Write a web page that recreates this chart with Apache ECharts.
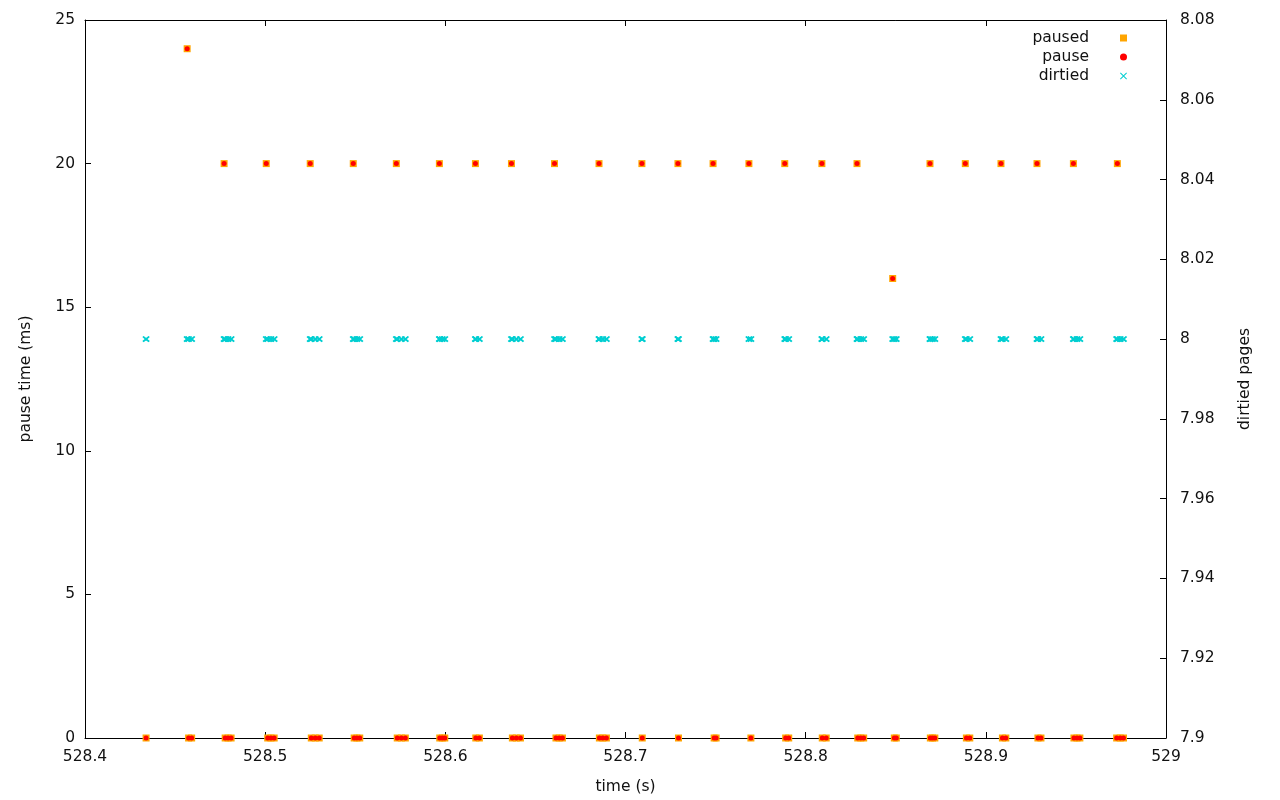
<!DOCTYPE html>
<html>
<head>
<meta charset="utf-8">
<script src="https://cdn.jsdelivr.net/npm/echarts@6/dist/echarts.min.js"></script>
<style>html,body{margin:0;padding:0;background:#fff;}#c{width:1280px;height:800px;}</style>
</head>
<body>
<div id="c"></div>
<script>
// time (s) of each pause event (one row per burst)
const pauseTimes = [
  528.4339,
  528.4567, 528.4575, 528.4592,
  528.4772, 528.4778, 528.4794, 528.4811,
  528.5006, 528.5014, 528.5032, 528.5050,
  528.5250, 528.5256, 528.5278, 528.5300,
  528.5489, 528.5494, 528.5509, 528.5525,
  528.5728, 528.5733, 528.5756, 528.5778,
  528.5967, 528.5969, 528.5983, 528.5997,
  528.6167, 528.6169, 528.6189,
  528.6367, 528.6372, 528.6394, 528.6417,
  528.6606, 528.6614, 528.6632, 528.6650,
  528.6853, 528.6855, 528.6874, 528.6894,
  528.7091, 528.7093,
  528.7291, 528.7294,
  528.7486, 528.7492, 528.7503,
  528.7685, 528.7696,
  528.7884, 528.7889, 528.7906,
  528.8090, 528.8092, 528.8114,
  528.8285, 528.8289, 528.8306, 528.8322,
  528.8483, 528.8492, 528.8503,
  528.8690, 528.8692, 528.8704, 528.8717,
  528.8886, 528.8892, 528.8911,
  528.9084, 528.9092, 528.9111,
  528.9284, 528.9289, 528.9306,
  528.9486, 528.9489, 528.9506, 528.9522,
  528.9726, 528.9730, 528.9746, 528.9764
];
// pause time (ms) of each event
const pauseMs = [
  0,
  24, 0, 0,
  20, 0, 0, 0,
  20, 0, 0, 0,
  20, 0, 0, 0,
  20, 0, 0, 0,
  20, 0, 0, 0,
  20, 0, 0, 0,
  20, 0, 0,
  20, 0, 0, 0,
  20, 0, 0, 0,
  20, 0, 0, 0,
  20, 0,
  20, 0,
  20, 0, 0,
  20, 0,
  20, 0, 0,
  20, 0, 0,
  20, 0, 0, 0,
  16, 0, 0,
  20, 0, 0, 0,
  20, 0, 0,
  20, 0, 0,
  20, 0, 0,
  20, 0, 0, 0,
  0, 20, 0, 0
];
// dirtied pages of each event
const dirtiedPages = [
  8,
  8, 8, 8,
  8, 8, 8, 8,
  8, 8, 8, 8,
  8, 8, 8, 8,
  8, 8, 8, 8,
  8, 8, 8, 8,
  8, 8, 8, 8,
  8, 8, 8,
  8, 8, 8, 8,
  8, 8, 8, 8,
  8, 8, 8, 8,
  8, 8,
  8, 8,
  8, 8, 8,
  8, 8,
  8, 8, 8,
  8, 8, 8,
  8, 8, 8, 8,
  8, 8, 8,
  8, 8, 8, 8,
  8, 8, 8,
  8, 8, 8,
  8, 8, 8,
  8, 8, 8, 8,
  8, 8, 8, 8
];
const seriesNames = ['paused', 'pause', 'dirtied'];
const xAxisName = 'time (s)';
const yAxisName = 'pause time (ms)';
const y2AxisName = 'dirtied pages';

const pausePairs = pauseTimes.map((t, i) => [t, pauseMs[i]]);
const dirtiedPairs = pauseTimes.map((t, i) => [t, dirtiedPages[i]]);

const FONT = 'DejaVu Sans';
const txt = { fontFamily: FONT, fontSize: 15.5, color: '#111' };
const X_PATH = 'path://M0,1L1,0L5,4L9,0L10,1L6,5L10,9L9,10L5,6L1,10L0,9L4,5Z';
const fmt = (d) => (v) => String(parseFloat(v.toFixed(d)));
const tick = { show: true, inside: true, length: 6, lineStyle: { color: '#000', width: 1 } };
const line = { show: true, onZero: false, lineStyle: { color: '#000', width: 1 } };

const chart = echarts.init(document.getElementById('c'), null, { renderer: 'canvas' });
chart.setOption({
  animation: false,
  backgroundColor: '#fff',
  grid: { left: 85, right: 114, top: 20, bottom: 61, containLabel: false },
  legend: {
    orient: 'vertical',
    right: 148,
    top: 25,
    align: 'right',
    itemGap: 3,
    itemWidth: 7,
    itemHeight: 7,
    textStyle: Object.assign({}, txt, { padding: [0, 26, 0, 0] }),
    data: [
      { name: seriesNames[0] },
      { name: seriesNames[1] },
      { name: seriesNames[2], itemStyle: { borderWidth: 0 } }
    ]
  },
  xAxis: [{
    type: 'value', min: 528.4, max: 529, interval: 0.1,
    name: xAxisName, nameLocation: 'middle', nameGap: 41, nameTextStyle: txt,
    axisLine: line, axisTick: tick,
    axisLabel: Object.assign({}, txt, { margin: 11, formatter: fmt(1) }),
    splitLine: { show: false }
  }, {
    type: 'value', min: 528.4, max: 529, interval: 0.1, position: 'top',
    axisLine: line, axisTick: tick,
    axisLabel: { show: false },
    splitLine: { show: false }
  }],
  yAxis: [{
    type: 'value', min: 0, max: 25, interval: 5, position: 'left',
    name: yAxisName, nameLocation: 'middle', nameGap: 51, nameTextStyle: txt,
    axisLine: line, axisTick: tick,
    axisLabel: Object.assign({}, txt, { margin: 10 }),
    splitLine: { show: false }
  }, {
    type: 'value', min: 7.9, max: 8.08, interval: 0.02, position: 'right',
    name: y2AxisName, nameLocation: 'middle', nameGap: 71, nameTextStyle: txt,
    axisLine: line, axisTick: tick,
    axisLabel: Object.assign({}, txt, { margin: 14, formatter: fmt(2) }),
    splitLine: { show: false }
  }],
  series: [{
    name: seriesNames[0], type: 'scatter', xAxisIndex: 0, yAxisIndex: 0,
    symbol: 'rect', symbolSize: 7,
    itemStyle: { color: '#ffa500', opacity: 1 },
    data: pausePairs, z: 2
  }, {
    name: seriesNames[1], type: 'scatter', xAxisIndex: 0, yAxisIndex: 0,
    symbol: 'circle', symbolSize: 5,
    itemStyle: { color: '#ff0000', opacity: 1 },
    data: pausePairs, z: 3
  }, {
    name: seriesNames[2], type: 'scatter', xAxisIndex: 0, yAxisIndex: 1,
    symbol: X_PATH, symbolSize: [6, 5],
    itemStyle: { color: '#00ced1', borderColor: '#00ced1', borderWidth: 1, opacity: 1 },
    data: dirtiedPairs, z: 4
  }]
});
</script>
</body>
</html>
